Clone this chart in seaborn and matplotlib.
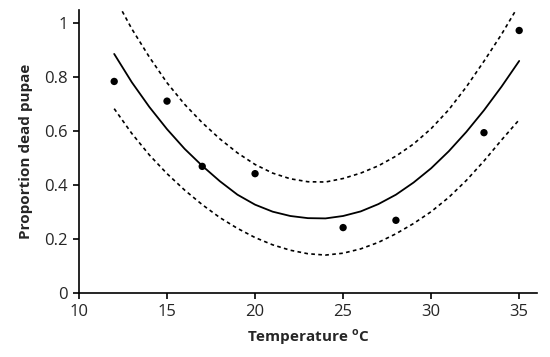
import matplotlib
matplotlib.use("Agg")
import matplotlib.pyplot as plt
import seaborn as sns
import pandas as pd

# observed proportions
temps = [12, 15, 17, 20, 25, 28, 33, 35]
dead = [0.785, 0.712, 0.470, 0.443, 0.243, 0.270, 0.595, 0.974]

# fitted curve and confidence limits
curve_t = [12, 13, 14, 15, 16, 17, 18, 19, 20, 21, 22, 23,
           24, 25, 26, 27, 28, 29, 30, 31, 32, 33, 34, 35]
fit = [0.887, 0.782, 0.690, 0.608, 0.535, 0.472, 0.415, 0.365, 0.328, 0.302, 0.286, 0.278,
       0.277, 0.286, 0.303, 0.330, 0.365, 0.410, 0.463, 0.526, 0.598, 0.678, 0.766, 0.861]
upper = [1.100, 0.980, 0.875, 0.780, 0.700, 0.632, 0.572, 0.520, 0.477, 0.445, 0.424, 0.413,
         0.412, 0.425, 0.445, 0.472, 0.508, 0.553, 0.610, 0.680, 0.765, 0.860, 0.960, 1.070]
lower = [0.684, 0.592, 0.512, 0.443, 0.382, 0.328, 0.280, 0.240, 0.206, 0.179, 0.159, 0.146,
         0.141, 0.148, 0.164, 0.188, 0.220, 0.258, 0.302, 0.355, 0.418, 0.490, 0.568, 0.643]

xticks = [10, 15, 20, 25, 30, 35]
yticks = [0, 0.2, 0.4, 0.6, 0.8, 1.0]
ytick_labels = ["0", "0.2", "0.4", "0.6", "0.8", "1"]

sns.set_style("ticks")
plt.rcParams["font.family"] = ["Open Sans", "DejaVu Sans"]
plt.rcParams["mathtext.fontset"] = "custom"
plt.rcParams["mathtext.rm"] = "Open Sans"
plt.rcParams["mathtext.bf"] = "Open Sans:bold"

pts = pd.DataFrame({"t": temps, "p": dead})
curves = pd.DataFrame({"t": curve_t, "fit": fit, "upper": upper, "lower": lower})

fig = plt.figure(figsize=(5.5, 3.57), dpi=100)
ax = fig.add_axes([0.1436, 0.179, 0.8324, 0.793])

sns.lineplot(data=curves, x="t", y="fit", color="black", linewidth=1.3, ax=ax)
for col in ["upper", "lower"]:
    sns.lineplot(data=curves, x="t", y=col, color="black", linewidth=1.2,
                 linestyle=(0, (2.2, 2.0)), ax=ax)
sns.scatterplot(data=pts, x="t", y="p", color="black", s=28, edgecolor="none",
                zorder=3, ax=ax)

ax.set_xlim(10, 36)
ax.set_ylim(0, 1.05)
ax.set_xticks(xticks)
ax.set_yticks(yticks)
ax.set_yticklabels(ytick_labels)
ax.tick_params(axis="both", labelsize=12, length=4, width=1.2, color="black",
               direction="out", pad=4)
ax.set_xlabel(r"Temperature $^{\mathbf{o}}$C", fontsize=11, fontweight="bold", labelpad=5)
ax.set_ylabel("Proportion dead pupae", fontsize=11, fontweight="bold", labelpad=8)
sns.despine(ax=ax)
for s in ["left", "bottom"]:
    ax.spines[s].set_linewidth(1.2)
    ax.spines[s].set_color("black")

fig.savefig("out.png", dpi=100)
